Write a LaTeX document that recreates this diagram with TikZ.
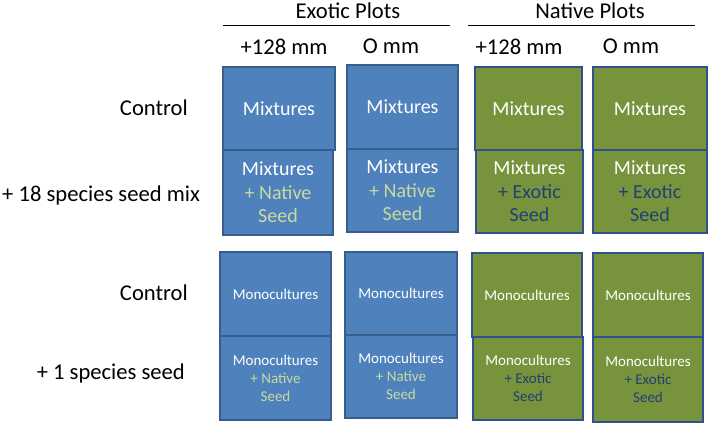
\documentclass[tikz,border=0pt]{standalone}
\usepackage{fontspec}
\setmainfont{Carlito}
\definecolor{exfill}{HTML}{4F81BD}
\definecolor{exedge}{HTML}{385D8A}
\definecolor{nafill}{HTML}{77933C}
\definecolor{naedge}{HTML}{2F528F}
\definecolor{natxt}{HTML}{C8DB9E}
\definecolor{extxt}{HTML}{223F78}
\tikzset{
  plotbox/.style={draw, line width=1.6pt, inner sep=0pt, outer sep=0pt, anchor=north west, align=center, text=white},
  exbox/.style={plotbox, fill=exfill, draw=exedge},
  nabox/.style={plotbox, fill=nafill, draw=naedge},
  big/.style={font=\fontsize{20}{23.5}\selectfont},
  small/.style={font=\fontsize{15}{18}\selectfont},
  lbl/.style={font=\fontsize{22.6}{26}\selectfont, inner sep=0pt, text=black},
  rule/.style={line width=1pt, black}
}
\begin{document}
\begin{tikzpicture}[x=1pt,y=-1pt]
\useasboundingbox[fill=white] (0,0) rectangle (709,424);
% headers
\node[lbl] (hex) at (348,11) {Exotic Plots};
\node[lbl] (hna) at (590,11) {Native Plots};
\coordinate (exl) at (223,25); \coordinate (exr) at (450,25);
\coordinate (nal) at (468,25); \coordinate (nar) at (695,25);
\draw[rule] (exl) -- (exr);
\draw[rule] (nal) -- (nar);
\node[lbl] (e128) at (284,47) {+128 mm};
\node[lbl] (e0) at (391,46) {O mm};
\node[lbl] (n128) at (519,47) {+128 mm};
\node[lbl] (n0) at (631,46) {O mm};
% row labels
\node[lbl, anchor=east] (l1) at (188,108) {Control};
\node[lbl, anchor=east] (l2) at (200,195) {+ 18 species seed mix};
\node[lbl, anchor=east] (l3) at (188,293) {Control};
\node[lbl, anchor=east] (l4) at (185,373) {+ 1 species seed};
% exotic +128
\node[exbox, big, minimum width=112pt, minimum height=83pt] (a1) at (223,67) {Mixtures};
\node[exbox, big, minimum width=110pt, minimum height=85pt] (a2) at (223,150) {Mixtures\\\textcolor{natxt}{+ Native}\\\textcolor{natxt}{Seed}};
\node[exbox, small, minimum width=111pt, minimum height=84pt] (a3) at (220,252) {Monocultures};
\node[exbox, small, minimum width=111pt, minimum height=84pt] (a4) at (220,336) {Monocultures\\\textcolor{natxt}{+ Native}\\\textcolor{natxt}{Seed}};
% exotic 0
\node[exbox, big, minimum width=111pt, minimum height=84pt] (b1) at (347,65) {Mixtures};
\node[exbox, big, minimum width=111pt, minimum height=83pt] (b2) at (347,149) {Mixtures\\\textcolor{natxt}{+ Native}\\\textcolor{natxt}{Seed}};
\node[exbox, small, minimum width=112pt, minimum height=83pt] (b3) at (345,252) {Monocultures};
\node[exbox, small, minimum width=112pt, minimum height=83pt] (b4) at (345,335) {Monocultures\\\textcolor{natxt}{+ Native}\\\textcolor{natxt}{Seed}};
% native +128
\node[nabox, big, minimum width=107pt, minimum height=83pt] (c1) at (475,67) {Mixtures};
\node[nabox, big, minimum width=107pt, minimum height=83pt] (c2) at (476,150) {Mixtures\\\textcolor{extxt}{+ Exotic}\\\textcolor{extxt}{Seed}};
\node[nabox, small, minimum width=110pt, minimum height=84pt] (c3) at (472,253) {Monocultures};
\node[nabox, small, minimum width=110pt, minimum height=83pt] (c4) at (473,337) {Monocultures\\\textcolor{extxt}{+ Exotic}\\\textcolor{extxt}{Seed}};
% native 0
\node[nabox, big, minimum width=114pt, minimum height=83pt] (d1) at (593,67) {Mixtures};
\node[nabox, big, minimum width=114pt, minimum height=83pt] (d2) at (593,150) {Mixtures\\\textcolor{extxt}{+ Exotic}\\\textcolor{extxt}{Seed}};
\node[nabox, small, minimum width=110pt, minimum height=84pt] (d3) at (593,253) {Monocultures};
\node[nabox, small, minimum width=110pt, minimum height=85pt] (d4) at (593,337) {Monocultures\\\textcolor{extxt}{+ Exotic}\\\textcolor{extxt}{Seed}};
\end{tikzpicture}
\end{document}
